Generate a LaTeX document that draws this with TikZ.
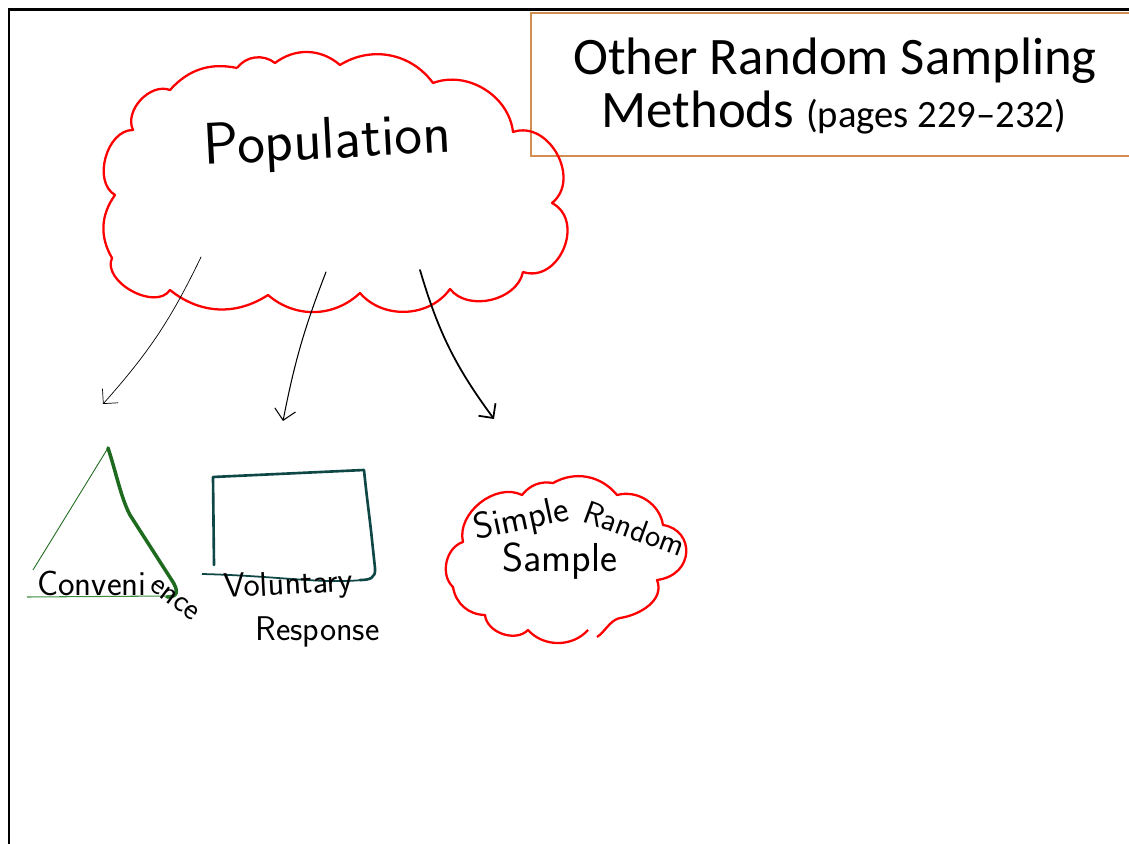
\documentclass[tikz,border=0pt]{standalone}
\usepackage{fontspec}
\usepackage{xcolor}
\usetikzlibrary{arrows.meta}
\newfontfamily\titlefont{Carlito}

\definecolor{cloudred}{HTML}{FF0000}
\definecolor{boxorange}{HTML}{D38D50}
\definecolor{trigreen}{HTML}{1E6A1E}
\definecolor{baselinegreen}{HTML}{3C8C3C}
\definecolor{rectteal}{HTML}{0F4747}

\tikzset{
  cloudline/.style={cloudred, line width=1.3pt, line join=round},
  handtext/.style={font=\sffamily, inner sep=0pt},
  handarrow/.style={-{Straight Barb[length=6pt,width=12pt]}, line cap=round},
}

\begin{document}
\begin{tikzpicture}[x=0.02cm, y=-0.02cm]
  \useasboundingbox (0,0) rectangle (1129,844);

  % slide frame
  \draw[line width=1.5pt] (9,844) -- (9,9.5) -- (1140,9.5);

  % title box
  \draw[boxorange, line width=1.5pt] (1140,13) -- (531,13) -- (531,156) -- (1140,156);
  \node[anchor=base, font=\titlefont\fontsize{30}{30}\selectfont, inner sep=0pt] (title1) at (835,75) {Other Random Sampling};
  \node[anchor=base, font=\titlefont\fontsize{30}{30}\selectfont, inner sep=0pt] (title2) at (834,128)
    {Methods {\fontsize{22}{22}\selectfont (pages 229–232)}};

  % population cloud
  \draw[cloudline] (237,68) to[bend left=46] (275,63) to[bend left=39] (340,65)
    to[bend left=43] (433,83) to[bend left=52] (513,132)
    to[bend left=80, looseness=1.2] (552,203) to[bend left=85, looseness=1.3] (523,272)
    to[bend left=65] (450,289) to[bend left=52] (360,293) to[bend left=42] (268,295)
    to[bend left=36] (170,290) to[bend left=85] (112,258) to[bend left=33] (115,195)
    to[bend left=75] (133,130) to[bend left=68] (170,90) to[bend left=30] (237,68);
  \node[handtext, anchor=base west, font=\sffamily\fontsize{33.5}{33.5}\selectfont, rotate=3] (pop) at (204,165) {Population};

  % arrows
  \coordinate (popL) at (201,257);
  \coordinate (popM) at (326,272);
  \coordinate (popR) at (420,270);
  \coordinate (convTop) at (103,404);
  \coordinate (volTop) at (283,421);
  \coordinate (srsTop) at (494,419);
  \draw[handarrow, line width=0.4pt] (popL) to[bend left=8] (convTop);
  \draw[handarrow, line width=0.6pt] (popM) to[bend right=5] (volTop);
  \draw[handarrow, line width=1pt] (popR) to[bend right=10] (srsTop);

  % convenience triangle
  \draw[trigreen, line width=0.5pt] (33,570) -- (108,448);
  \draw[trigreen, line width=2pt, line cap=round] (108,448) .. controls (116,472) and (121,498) .. (130,515)
    -- (171,579) .. controls (180,592) and (177,597) .. (167,597);
  \draw[baselinegreen, line width=0.6pt] (27,597) -- (170,596);
  \node[handtext, anchor=base west, font=\sffamily\fontsize{20}{20}\selectfont] (conv) at (37,595) {Conveni};
  \node[handtext, anchor=base west, font=\sffamily\fontsize{18}{18}\selectfont, rotate=-37] (conv2) at (148,588) {ence};

  % voluntary response box
  \draw[rectteal, line width=1.5pt, line cap=round, line join=round] (214,565) -- (213,477) -- (364,470)
    .. controls (367,500) and (370,520) .. (372,540) -- (375,568)
    .. controls (376,578) and (370,580) .. (360,580);
  \draw[rectteal, line width=1pt] (202,574) .. controls (280,576) and (320,584) .. (362,580);
  \node[handtext, anchor=base west, font=\sffamily\fontsize{19.5}{19.5}\selectfont, rotate=3] (vol) at (224,598) {Voluntary};
  \node[handtext, anchor=base west, font=\sffamily\fontsize{19.5}{19.5}\selectfont] (resp) at (255,640) {Response};

  % simple random sample cloud
  \draw[cloudline] (588,630) to[bend left=48] (528,630) to[bend left=65] (485,615)
    to[bend left=40] (453,587) to[bend left=60] (463,542) to[bend left=65] (522,495)
    to[bend left=30] (553,483) to[bend left=40] (617,495) to[bend left=48] (663,525)
    .. controls (695,530) and (695,575) .. (657,580)
    .. controls (665,600) and (640,615) .. (620,618)
    .. controls (610,620) and (605,632) .. (597,637);
  \node[handtext, anchor=base west, font=\sffamily\fontsize{21}{21}\selectfont, rotate=12] (simple) at (476,540) {Simple};
  \node[handtext, anchor=base west, font=\sffamily\fontsize{18.5}{18.5}\selectfont, rotate=-20] (random) at (581,521) {Random};
  \node[handtext, anchor=base west, font=\sffamily\fontsize{23}{23}\selectfont] (sample) at (502,571) {Sample};
\end{tikzpicture}
\end{document}
